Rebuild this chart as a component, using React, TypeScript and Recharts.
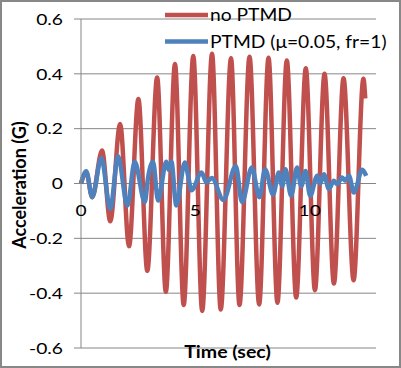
import { LineChart, Line, XAxis, YAxis, CartesianGrid, Legend, Label } from "recharts";

// no PTMD response (read off peaks / troughs)
const redT = [0, 0.23, 0.49, 0.92, 1.28, 1.71, 2.1, 2.51, 2.9, 3.33, 3.71, 4.11, 4.49, 4.91, 5.3, 5.73, 6.11, 6.56, 6.93, 7.37, 7.79, 8.2, 8.59, 9.0, 9.41, 9.83, 10.23, 10.65, 11.06, 11.48, 11.92, 12.35, 12.43];
const redV = [0, 0.04, -0.05, 0.12, -0.138, 0.217, -0.229, 0.308, -0.319, 0.387, -0.395, 0.436, -0.443, 0.465, -0.465, 0.473, -0.46, 0.457, -0.443, 0.462, -0.441, 0.459, -0.435, 0.449, -0.416, 0.42, -0.389, 0.4, -0.365, 0.384, -0.353, 0.382, 0.31];

// PTMD (mu=0.05, fr=1) response
const blueT = [0, 0.23, 0.49, 0.89, 1.28, 1.62, 2.03, 2.35, 2.79, 2.93, 3.15, 3.37, 3.73, 3.83, 3.95, 4.17, 4.54, 4.68, 4.83, 5.27, 5.48, 5.72, 6.23, 6.77, 7.04, 7.47, 7.8, 8.05, 8.4, 8.65, 8.8, 8.94, 9.19, 9.45, 9.63, 9.82, 10.02, 10.33, 10.46, 10.62, 10.84, 11.06, 11.2, 11.42, 11.55, 11.72, 11.93, 12.3, 12.47];
const blueV = [0, 0.045, -0.05, 0.093, -0.092, 0.099, -0.08, 0.079, -0.068, 0.02, 0.079, -0.062, 0.079, 0.05, 0.08, -0.08, 0.077, 0.03, -0.025, 0.04, 0.005, 0.02, -0.06, 0.064, -0.068, 0.058, -0.05, 0.052, -0.04, 0.04, -0.01, 0.052, -0.045, 0.058, -0.01, 0.046, -0.045, 0.028, 0, 0.034, -0.02, 0.01, -0.002, 0.022, 0.01, 0.028, -0.033, 0.05, 0.028];

const seriesNames = ["no PTMD", "PTMD (\u03bc=0.05, fr=1)"];
const seriesColors = ["#C0504D", "#4F81BD"];
const yTicks = [-0.6, -0.4, -0.2, 0, 0.2, 0.4, 0.6];
const xTicks = [0, 5, 10];

const red = redT.map((t, i) => ({ t, v: redV[i] }));
const blue = blueT.map((t, i) => ({ t, v: blueV[i] }));

const FONT = "Lato, 'Open Sans', sans-serif";
const GRID = "#868686";
const PLOT_TOP = 19;
const PLOT_H = 329;
const zeroY = PLOT_TOP + PLOT_H / 2;

function YTick({ x, y, payload }: any) {
  const v = payload.value;
  const s = v === 0 ? "0" : v.toFixed(1);
  return (
    <g transform={`translate(${x},${y}) scale(1.2,1)`}>
      <text x={0} y={0} dy="0.36em" textAnchor="end" fontFamily={FONT} fontSize={16} fill="#000">
        {s}
      </text>
    </g>
  );
}

function XTick({ x, payload }: any) {
  return (
    <g transform={`translate(${x},${zeroY + 32.5}) scale(1.2,1)`}>
      <text x={0} y={0} textAnchor="middle" fontFamily={FONT} fontSize={16} fill="#000">
        {payload.value}
      </text>
    </g>
  );
}

function LegendBox() {
  return (
    <svg width={241} height={60} style={{ display: "block" }}>
      {seriesNames.map((name, i) => (
        <g key={name}>
          <line x1={5} x2={48} y1={15 + i * 26.5} y2={15 + i * 26.5} stroke={seriesColors[i]} strokeWidth={4.5} />
          <g transform={`translate(50,${15 + i * 26.5}) scale(1.1,1)`}>
            <text x={0} y={0} dy="0.36em" fontFamily={FONT} fontSize={17.5} fill="#000">
              {name}
            </text>
          </g>
        </g>
      ))}
    </svg>
  );
}

export default function App() {
  return (
    <div style={{ position: "absolute", left: 0, top: 0, width: 401, height: 368, background: "#fff" }}>
      <LineChart width={401} height={368} margin={{ top: PLOT_TOP, right: 25, bottom: 0, left: 31 }}>
        <CartesianGrid stroke={GRID} vertical={false} />
        <XAxis
          type="number"
          dataKey="t"
          domain={[0, 12.9]}
          ticks={xTicks}
          axisLine={false}
          tickLine={false}
          height={20}
          tick={<XTick />}
        >
          <Label
            content={({ viewBox }: any) => (
              <g transform={`translate(${viewBox.x + viewBox.width / 2 - 1},${358}) scale(1.15,1)`}>
                <text x={0} y={0} textAnchor="middle" fontFamily={FONT} fontWeight="bold" fontSize={17} fill="#000">
                  Time (sec)
                </text>
              </g>
            )}
          />
        </XAxis>
        <YAxis
          type="number"
          domain={[-0.6, 0.6]}
          ticks={yTicks}
          width={50}
          stroke={GRID}
          tickSize={7}
          tickMargin={11}
          tick={<YTick />}
        >
          <Label
            content={({ viewBox }: any) => (
              <g transform={`translate(19,${viewBox.y + viewBox.height / 2 + 1.5}) scale(1.05,1) rotate(-90)`}>
                <text x={0} y={0} dy="0.36em" textAnchor="middle" fontFamily={FONT} fontWeight="bold" fontSize={18} fill="#000">
                  Acceleration (G)
                </text>
              </g>
            )}
          />
        </YAxis>
        <Legend
          layout="vertical"
          align="center"
          verticalAlign="middle"
          content={<LegendBox />}
          wrapperStyle={{ top: 0, left: 160, width: 241, height: 60 }}
        />
        <Line
          data={red}
          dataKey="v"
          name={seriesNames[0]}
          type="monotone"
          stroke={seriesColors[0]}
          strokeWidth={4.5}
          dot={false}
          isAnimationActive={false}
        />
        <Line
          data={blue}
          dataKey="v"
          name={seriesNames[1]}
          type="monotone"
          stroke={seriesColors[1]}
          strokeWidth={4.5}
          dot={false}
          isAnimationActive={false}
        />
      </LineChart>
      <div
        style={{
          position: "absolute",
          left: 0,
          top: 0,
          width: 401,
          height: 368,
          boxSizing: "border-box",
          border: "2px solid #888",
          pointerEvents: "none",
        }}
      />
    </div>
  );
}
